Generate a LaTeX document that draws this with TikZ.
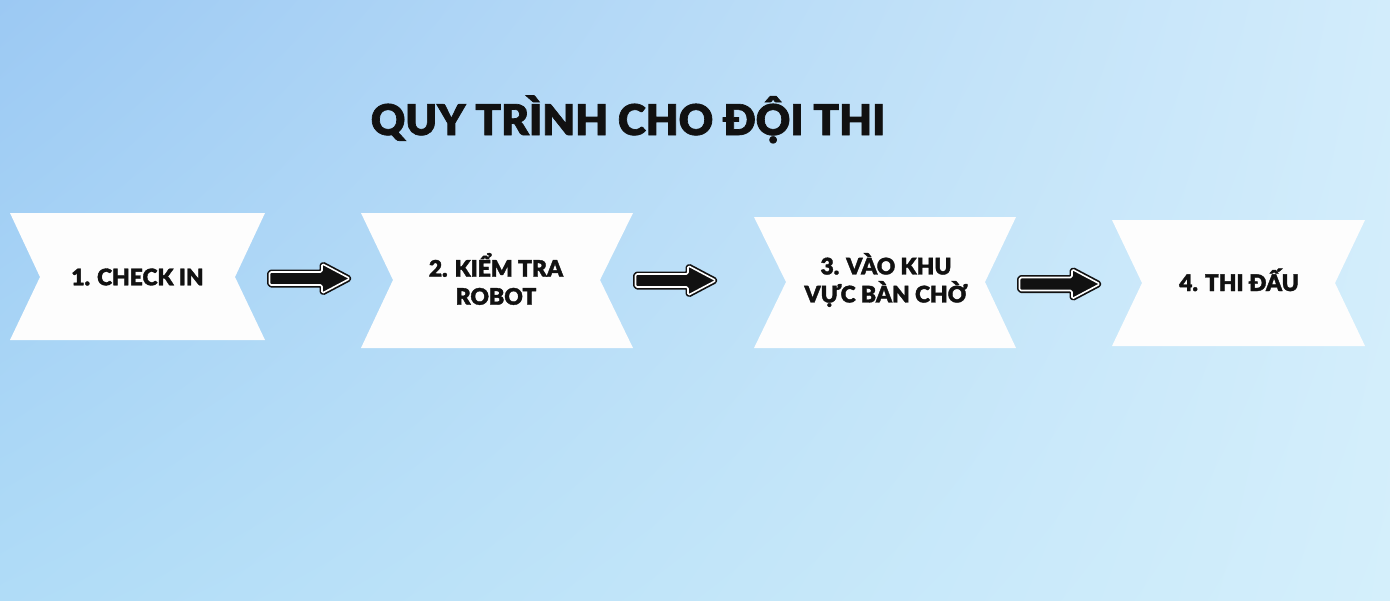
\documentclass[tikz,border=0pt]{standalone}
\usepackage{fontspec}
\usetikzlibrary{shadings}
\setmainfont{Lato}[UprightFont={* Black}, UprightFeatures={FakeBold=1.6}]
\definecolor{bgUL}{RGB}{156,201,243}
\definecolor{bgUR}{RGB}{210,236,251}
\definecolor{bgLL}{RGB}{176,220,247}
\definecolor{bgLR}{RGB}{212,239,251}
\definecolor{ink}{RGB}{17,17,17}
\definecolor{boxwhite}{RGB}{253,253,253}
\newcommand\flowarrow[3]{% name, start x, centre y
  \path[fill=ink, draw=ink, double=white, line width=0.85pt, double distance=0.8pt, line join=round, rounded corners=0.8pt]
    (#2+2.5,#3-6.5) -- (#2+55,#3-6.5) -- (#2+55,#3-14.8) -- (#2+83,#3)
    -- (#2+55,#3+14.8) -- (#2+55,#3+6.5) -- (#2+2.5,#3+6.5) -- cycle;
  \coordinate (#1) at (#2+42,#3);
}
\begin{document}
\begin{tikzpicture}[x=0.5pt,y=-0.5pt,
  boxtext/.style={text=ink, align=center, font=\fontsize{11.4}{14}\selectfont, inner sep=0pt},
  titletext/.style={text=ink, font=\fontsize{21.2}{25}\selectfont, inner sep=0pt},
  stepshape/.style={fill=boxwhite}]
\useasboundingbox (0,0) rectangle (1390,600);
\shade[upper left=bgUL, upper right=bgUR, lower left=bgLL, lower right=bgLR] (0,0) rectangle (1390,600);

\node[titletext, anchor=base] (title) at (628,135) {QUY TRÌNH CHO ĐỘI THI};

% box 1
\fill[stepshape] (10,213) -- (265,213) -- (235,277) -- (265,340) -- (10,340) -- (40,277) -- cycle;
\node[boxtext] (b1) at (137.5,277) {1. CHECK IN};
% box 2
\fill[stepshape] (361,213) -- (633,213) -- (600,280) -- (633,348) -- (361,348) -- (393,280) -- cycle;
\node[boxtext] (b2) at (496,279) {2. KIỂM TRA\\ROBOT};
% box 3
\fill[stepshape] (754,217) -- (1016,217) -- (985,282) -- (1016,348) -- (754,348) -- (786,282) -- cycle;
\node[boxtext] (b3) at (886,280) {3. VÀO KHU\\VỰC BÀN CHỜ};
% box 4
\fill[stepshape] (1112,220) -- (1365,220) -- (1335,283) -- (1365,346) -- (1112,346) -- (1142,283) -- cycle;
\node[boxtext, anchor=base] (b4) at (1239,291) {4. THI ĐẤU};

\flowarrow{a1}{267}{278.5}
\flowarrow{a2}{633}{280.5}
\flowarrow{a3}{1017}{284}
\end{tikzpicture}
\end{document}
